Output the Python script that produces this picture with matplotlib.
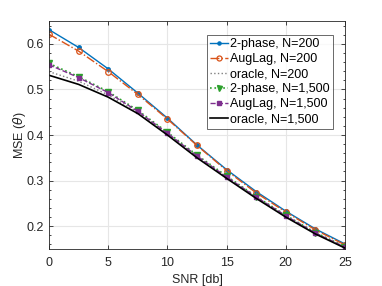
import matplotlib
matplotlib.use("Agg")
import matplotlib.pyplot as plt
from matplotlib.ticker import MultipleLocator

plt.rcParams['font.family'] = ['Liberation Sans', 'DejaVu Sans']
plt.rcParams['mathtext.fontset'] = 'dejavusans'

snr = [0, 2.5, 5, 7.5, 10, 12.5, 15, 17.5, 20, 22.5, 25]
twophase_200 = [0.631, 0.592, 0.545, 0.492, 0.437, 0.378, 0.324, 0.276, 0.233, 0.194, 0.161]
auglag_200 = [0.621, 0.584, 0.539, 0.489, 0.435, 0.377, 0.322, 0.273, 0.231, 0.192, 0.159]
oracle_200 = [0.539, 0.518, 0.488, 0.450, 0.403, 0.353, 0.307, 0.263, 0.222, 0.185, 0.154]
twophase_1500 = [0.557, 0.528, 0.495, 0.454, 0.406, 0.356, 0.310, 0.265, 0.224, 0.186, 0.155]
auglag_1500 = [0.554, 0.526, 0.493, 0.452, 0.404, 0.354, 0.308, 0.264, 0.223, 0.185, 0.154]
oracle_1500 = [0.531, 0.511, 0.483, 0.447, 0.400, 0.350, 0.305, 0.261, 0.220, 0.183, 0.152]

fig = plt.figure(figsize=(3.82, 2.86), dpi=100)
ax = fig.add_axes([49 / 382, 1 - 249 / 286, 296 / 382, 228 / 286])

ax.plot(snr, twophase_200, '-', color='#0072BD', marker='o', markersize=2.5,
        markerfacecolor='#0072BD', lw=1.0, label='2-phase, N=200')
ax.plot(snr, auglag_200, '-.', color='#D95319', marker='o', markersize=4,
        markerfacecolor='none', mew=0.9, lw=1.0, label='AugLag, N=200')
ax.plot(snr, oracle_200, ':', color='#808080', lw=1.0, label='oracle, N=200')
ax.plot(snr, twophase_1500, ':', color='#2CA02C', marker='v', markersize=4,
        markerfacecolor='#2CA02C', lw=1.2, label='2-phase, N=1,500')
ax.plot(snr, auglag_1500, '--', color='#7E2F8E', marker='s', markersize=3,
        markerfacecolor='#7E2F8E', lw=1.0, label='AugLag, N=1,500')
ax.plot(snr, oracle_1500, '-', color='black', lw=1.2, label='oracle, N=1,500')

ax.set_xlim(0, 25)
ax.set_ylim(0.15, 0.65)
ax.set_xticks([0, 5, 10, 15, 20, 25])
ax.set_yticks([0.2, 0.3, 0.4, 0.5, 0.6])
ax.yaxis.set_minor_locator(MultipleLocator(0.02))
ax.tick_params(which='both', direction='in', right=True, top=True,
               labelsize=9, colors='#262626', width=0.6)
ax.tick_params(axis='x', pad=6)
ax.tick_params(which='major', length=3)
ax.tick_params(which='minor', length=1.5)
ax.grid(True, color='#E6E6E6', lw=0.8)
ax.set_axisbelow(True)
for s in ax.spines.values():
    s.set_color('#262626')
    s.set_linewidth(0.6)

ax.set_xlabel('SNR [db]', fontsize=9, color='#262626', labelpad=3)
ax.set_ylabel(r'MSE ($\theta$)', fontsize=9, color='#262626', labelpad=-1)

leg = ax.legend(loc='upper right', bbox_to_anchor=(0.96, 0.94), fontsize=9,
                frameon=True, fancybox=False, handlelength=1.4, handletextpad=0.15,
                borderpad=0.3, labelspacing=0.24, borderaxespad=0.0,
                markerscale=0.9)
leg.get_frame().set_edgecolor('#262626')
leg.get_frame().set_linewidth(0.6)

fig.savefig('out.png', dpi=100)
